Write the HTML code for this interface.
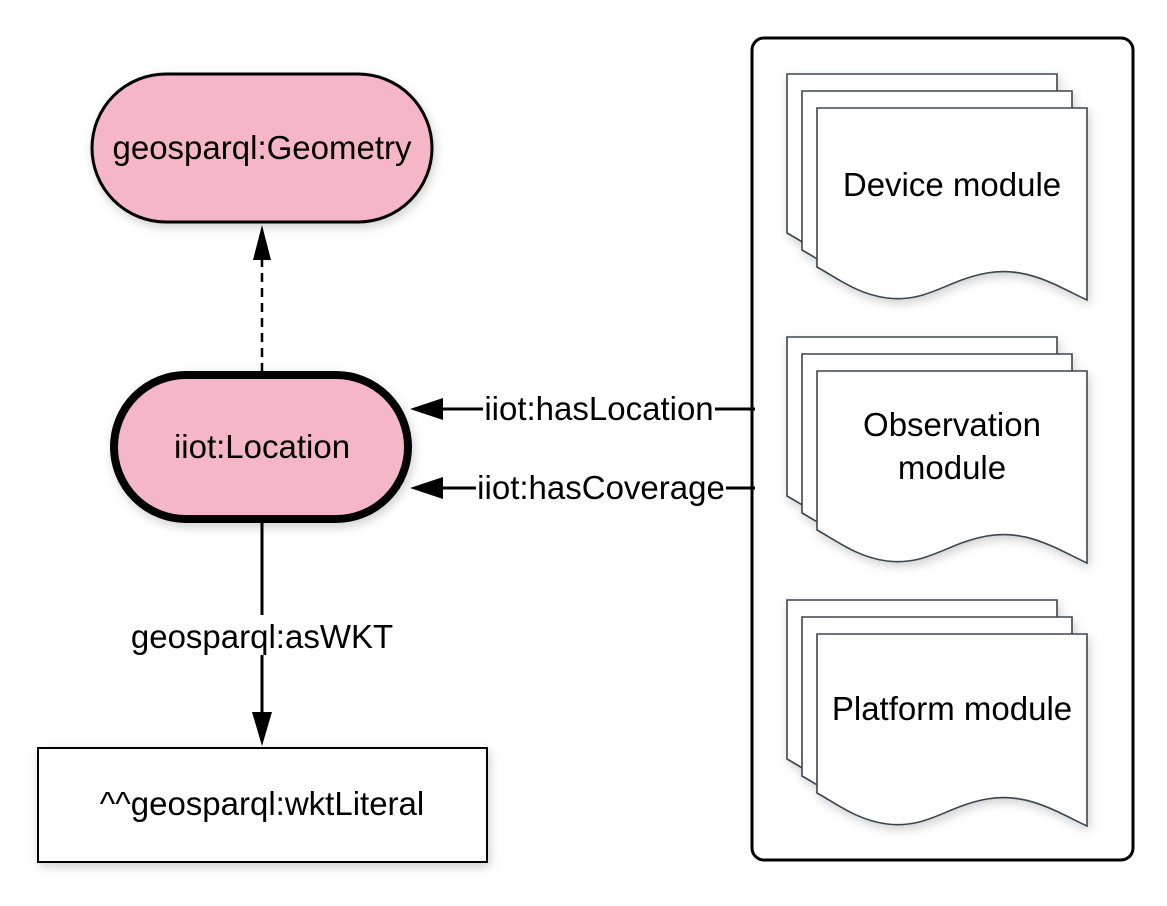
<!DOCTYPE html>
<html><head><style>html,body{margin:0;padding:0;background:#fff}</style></head><body>
<svg width="1167" height="901" viewBox="0 0 1167 901" xmlns="http://www.w3.org/2000/svg" font-family="Liberation Sans, Arial, sans-serif">
<defs>
<filter id="sh" x="-20%" y="-20%" width="140%" height="140%"><feDropShadow dx="2" dy="4" stdDeviation="5" flood-color="#000" flood-opacity="0.18"/></filter>
<g id="doc">
<path d="M0,0 L270,0 L270,192 C240,178 210,158 170,165 C130,172 110,195 70,190 C40,186 20,170 0,159 Z" fill="#fff" stroke="#3b4550" stroke-width="1.6"/>
</g>
<g id="stack">
<use href="#doc" x="0" y="0"/>
<use href="#doc" x="15" y="17"/>
<use href="#doc" x="30" y="34"/>
</g>
</defs>
<rect x="752" y="38" width="381" height="822" rx="12" fill="#fff" stroke="#000" stroke-width="3"/>
<g filter="url(#sh)">
<use href="#stack" x="787" y="74"/>
<use href="#stack" x="787" y="337"/>
<use href="#stack" x="787" y="600"/>
</g>
<g font-size="33" text-anchor="middle" fill="#000">
<text x="952" y="196">Device module</text>
<text x="952" y="436">Observation</text>
<text x="952" y="479">module</text>
<text x="952" y="720">Platform module</text>
</g>
<rect x="92" y="74" width="340" height="148" rx="74" fill="#f4b6c8" stroke="#000" stroke-width="3" filter="url(#sh)"/>
<text x="262" y="159" font-size="33" text-anchor="middle">geosparql:Geometry</text>
<line x1="262" y1="372" x2="262" y2="258" stroke="#000" stroke-width="2.5" stroke-dasharray="9,6"/>
<polygon points="262,225 253,260 271,260" fill="#000"/>
<rect x="114" y="375" width="294" height="144" rx="72" fill="#f4b6c8" stroke="#000" stroke-width="8" filter="url(#sh)"/>
<text x="262" y="458" font-size="33" text-anchor="middle">iiot:Location</text>
<line x1="262" y1="523" x2="262" y2="615" stroke="#000" stroke-width="3"/>
<line x1="262" y1="655" x2="262" y2="715" stroke="#000" stroke-width="3"/>
<text x="262" y="648" font-size="33" text-anchor="middle">geosparql:asWKT</text>
<polygon points="262,746 252,712 272,712" fill="#000"/>
<rect x="38" y="748" width="449" height="114" fill="#fff" stroke="#000" stroke-width="2" filter="url(#sh)"/>
<text x="262" y="815" font-size="33" text-anchor="middle">^^geosparql:wktLiteral</text>
<line x1="440" y1="409" x2="483" y2="409" stroke="#000" stroke-width="3"/>
<line x1="715" y1="409" x2="755" y2="409" stroke="#000" stroke-width="3"/>
<polygon points="410,409 443,398 443,420" fill="#000"/>
<text x="599" y="420" font-size="33" text-anchor="middle">iiot:hasLocation</text>
<line x1="440" y1="488" x2="476" y2="488" stroke="#000" stroke-width="3"/>
<line x1="726" y1="488" x2="755" y2="488" stroke="#000" stroke-width="3"/>
<polygon points="410,488 443,477 443,499" fill="#000"/>
<text x="601" y="499" font-size="33" text-anchor="middle">iiot:hasCoverage</text>
</svg>
</body></html>
